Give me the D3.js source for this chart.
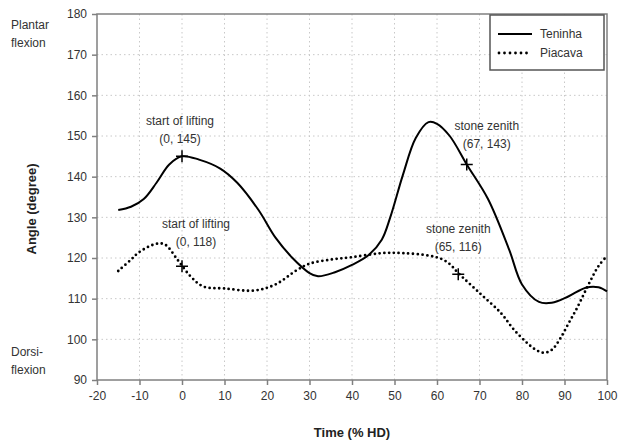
<!DOCTYPE html>
<html>
<head>
<meta charset="utf-8">
<script src="https://cdn.jsdelivr.net/npm/d3@7"></script>
<style>
  body { margin: 0; background: #fff; }
  svg { font-family: 'Liberation Sans', Arial, sans-serif; }
</style>
</head>
<body>
<div id="chart"></div>
<script>
// Teninha (solid)
const teninhaX = [-15, -12, -9, -6, -3, 0, 4, 9, 13, 18, 22, 26, 30, 32, 36, 40, 44, 47, 49, 52, 55, 58, 60, 63, 67, 72, 77, 80, 84, 87, 91, 95, 98, 100];
const teninhaY = [131.8, 132.6, 134.5, 138.5, 143, 145, 144.2, 142, 138.5, 131.8, 125, 120, 116.3, 115.5, 116.5, 118.3, 120.8, 124.5, 130, 140.5, 149.5, 153.4, 153, 150, 143, 134.5, 122, 113.5, 109.2, 109, 110.6, 112.7, 112.8, 111.8];
// Piacava (dotted)
const piacavaX = [-15, -12, -10, -6, -4, -1, 2, 5, 10, 17, 22, 27, 30, 35, 40, 47, 52, 58, 61, 63, 65, 70, 75, 78, 81, 83, 85, 87, 89, 91, 93, 96, 98, 100];
const piacavaY = [116.8, 119.6, 121.5, 123.5, 123.3, 119.5, 115.5, 113, 112.5, 112, 113.5, 117, 118.6, 119.6, 120.2, 121.2, 121.2, 120.6, 119.8, 118.5, 116.3, 111.4, 106.5, 102.5, 99.3, 97.6, 96.7, 97.4, 100.2, 104, 107.8, 114.2, 118, 120.5];

const xTicks = d3.range(-20, 101, 10);
const yTicks = d3.range(90, 181, 10);

const markers = [
  { x: 0, y: 145, lines: ['start of lifting', '(0, 145)'], dx: -2, dy: -31 },
  { x: 0, y: 118, lines: ['start of lifting', '(0, 118)'], dx: 14, dy: -38 },
  { x: 67, y: 143, lines: ['stone zenith', '(67, 143)'], dx: 20, dy: -34 },
  { x: 65, y: 116, lines: ['stone zenith', '(65, 116)'], dx: 0, dy: -41 }
];

const width = 618, height = 444;
const margin = { top: 14, right: 11, bottom: 64, left: 97 };

const svg = d3.select('#chart').append('svg')
  .attr('width', width)
  .attr('height', height);

const x = d3.scaleLinear().domain([-20, 100]).range([margin.left, width - margin.right]);
const y = d3.scaleLinear().domain([90, 180]).range([height - margin.bottom, margin.top]);

// Grid lines
svg.append('g')
  .selectAll('line')
  .data(xTicks.slice(1, -1))
  .join('line')
  .attr('x1', (d) => x(d)).attr('x2', (d) => x(d))
  .attr('y1', y(90)).attr('y2', y(180))
  .attr('stroke', '#c8c8c8')
  .attr('stroke-dasharray', '1.5 3');

svg.append('g')
  .selectAll('line')
  .data(yTicks.slice(1, -1))
  .join('line')
  .attr('y1', (d) => y(d)).attr('y2', (d) => y(d))
  .attr('x1', x(-20)).attr('x2', x(100))
  .attr('stroke', '#c8c8c8')
  .attr('stroke-dasharray', '1.5 3');

// Frame
svg.append('rect')
  .attr('x', x(-20)).attr('y', y(180))
  .attr('width', x(100) - x(-20)).attr('height', y(90) - y(180))
  .attr('fill', 'none')
  .attr('stroke', '#808080')
  .attr('stroke-width', 1.5);

// Axes
svg.append('g')
  .attr('transform', `translate(0,${y(90)})`)
  .call(d3.axisBottom(x).tickValues(xTicks).tickFormat((d) => String(d)).tickSize(5).tickPadding(6))
  .call((g) => g.select('.domain').remove())
  .call((g) => g.selectAll('.tick line').attr('stroke', '#808080').attr('stroke-width', 1.5))
  .call((g) => g.selectAll('.tick text')
    .attr('fill', '#333')
    .attr('font-size', 12)
    .attr('font-family', "'Liberation Sans', Arial, sans-serif"));

svg.append('g')
  .attr('transform', `translate(${x(-20)},0)`)
  .call(d3.axisLeft(y).tickValues(yTicks).tickFormat((d) => String(d)).tickSize(5).tickPadding(5))
  .call((g) => g.select('.domain').remove())
  .call((g) => g.selectAll('.tick line').attr('stroke', '#808080').attr('stroke-width', 1.5))
  .call((g) => g.selectAll('.tick text')
    .attr('fill', '#333')
    .attr('font-size', 12)
    .attr('font-family', "'Liberation Sans', Arial, sans-serif"));

// Axis titles
svg.append('text')
  .attr('x', x(40))
  .attr('y', 437)
  .attr('text-anchor', 'middle')
  .attr('font-size', 13)
  .attr('font-weight', 'bold')
  .attr('fill', '#222')
  .text('Time (% HD)');

svg.append('text')
  .attr('transform', `translate(36,${(y(90) + y(180)) / 2 + 12}) rotate(-90)`)
  .attr('text-anchor', 'middle')
  .attr('font-size', 13)
  .attr('font-weight', 'bold')
  .attr('fill', '#222')
  .text('Angle (degree)');

// Side labels
const side = svg.append('g').attr('font-size', 12).attr('fill', '#333');
side.append('text').attr('x', 11).attr('y', 29).text('Plantar');
side.append('text').attr('x', 11).attr('y', 47).text('flexion');
side.append('text').attr('x', 11).attr('y', 356).text('Dorsi-');
side.append('text').attr('x', 11).attr('y', 374).text('flexion');

// Lines
const line = d3.line()
  .x((d) => x(d[0]))
  .y((d) => y(d[1]))
  .curve(d3.curveCatmullRom.alpha(0.5));

svg.append('path')
  .datum(d3.zip(teninhaX, teninhaY))
  .attr('d', line)
  .attr('fill', 'none')
  .attr('stroke', '#000')
  .attr('stroke-width', 2);

svg.append('path')
  .datum(d3.zip(piacavaX, piacavaY))
  .attr('d', line)
  .attr('fill', 'none')
  .attr('stroke', '#000')
  .attr('stroke-width', 2.8)
  .attr('stroke-linecap', 'round')
  .attr('stroke-dasharray', '0 4.8');

// Markers and annotations
const mk = svg.append('g').selectAll('g').data(markers).join('g')
  .attr('transform', (d) => `translate(${x(d.x)},${y(d.y)})`);

mk.append('path')
  .attr('d', 'M-6,0H6M0,-6V6')
  .attr('stroke', '#000')
  .attr('stroke-width', 1.5);

mk.append('text')
  .attr('text-anchor', 'middle')
  .attr('font-size', 12)
  .attr('fill', '#333')
  .selectAll('tspan')
  .data((d) => d.lines.map((t, i) => ({ t, i, d })))
  .join('tspan')
  .attr('x', (e) => e.d.dx)
  .attr('y', (e) => e.d.dy + e.i * 18)
  .text((e) => e.t);

// Legend
const lg = svg.append('g').attr('transform', 'translate(490,15)');
lg.append('rect')
  .attr('width', 114).attr('height', 55)
  .attr('fill', '#fff')
  .attr('stroke', '#555')
  .attr('stroke-width', 1.5);
lg.append('line')
  .attr('x1', 8).attr('x2', 42).attr('y1', 19).attr('y2', 19)
  .attr('stroke', '#000').attr('stroke-width', 2);
lg.append('line')
  .attr('x1', 9).attr('x2', 42).attr('y1', 38).attr('y2', 38)
  .attr('stroke', '#000').attr('stroke-width', 2.8)
  .attr('stroke-linecap', 'round').attr('stroke-dasharray', '0 5.5');
lg.append('text').attr('x', 50).attr('y', 23).attr('font-size', 12).attr('fill', '#333').text('Teninha');
lg.append('text').attr('x', 50).attr('y', 42).attr('font-size', 12).attr('fill', '#333').text('Piacava');
</script>
</body>
</html>
